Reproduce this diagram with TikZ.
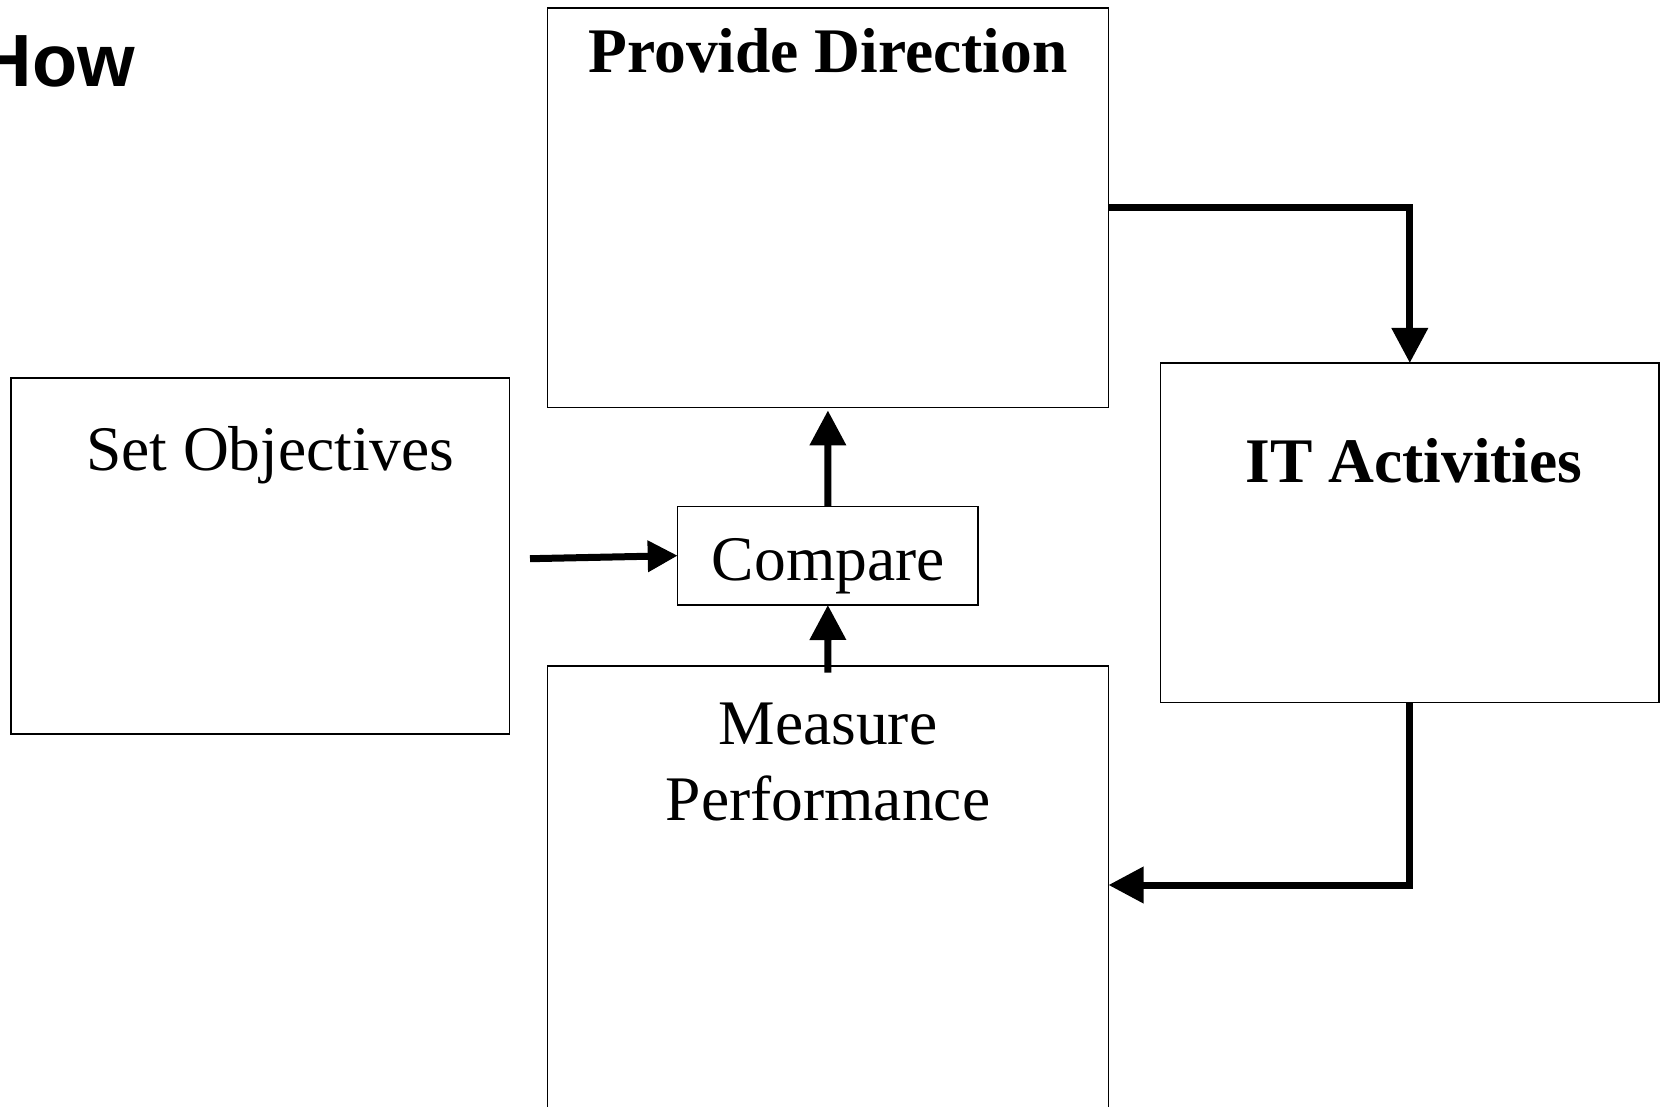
\documentclass[tikz,border=0pt]{standalone}
\usepackage{fontspec}
\setmainfont{Liberation Serif}
\newfontfamily\titlesans{Liberation Sans}
\usetikzlibrary{arrows.meta,calc}
\tikzset{
  boxnode/.style={draw=black, line width=0.7pt, rectangle, inner sep=0pt, outer sep=0pt, anchor=north west},
  txt/.style={inner sep=0pt, outer sep=0pt, anchor=base, font=\fontsize{31.75pt}{38pt}\selectfont},
  btxt/.style={txt, font=\fontsize{31.75pt}{38pt}\selectfont\bfseries},
  arr/.style={line width=3.5pt, line join=miter, -{Triangle[length=17.5pt,width=17.5pt]}},
  arrsmall/.style={line width=3.5pt, -{Triangle[length=15pt,width=15pt]}}
}
\begin{document}
\begin{tikzpicture}[x=0.5pt,y=-0.5pt]
\useasboundingbox (0,0) rectangle (1660,1107);
\fill[white] (0,0) rectangle (1660,1107);
\clip (0,0) rectangle (1660,1107);

% title
\node[inner sep=0pt, outer sep=0pt, anchor=base west, font=\titlesans\bfseries\fontsize{37pt}{44pt}\selectfont] (how) at (-21.3,86.7) {How};

% boxes
\node[boxnode, minimum width=280.6pt, minimum height=199.8pt] (pd) at (547.3,8) {};
\node[boxnode, minimum width=249.35pt, minimum height=178pt] (so) at (11,378) {};
\node[boxnode, minimum width=150.15pt, minimum height=49.35pt] (cmp) at (677.7,506.3) {};
\node[boxnode, minimum width=280.6pt, minimum height=260pt] (mp) at (547.3,666) {};
\node[boxnode, minimum width=249.2pt, minimum height=169.7pt] (it) at (1160.6,363) {};

% texts
\node[btxt] (pdt) at (828,72.7) {Provide Direction};
\node[btxt] (itt) at (1414,482) {IT Activities};
\node[txt] (sot) at (270.3,470) {Set Objectives};
\node[txt] (cmpt) at (828.3,580) {Compare};
\node[txt] (mpt1) at (828,744) {Measure};
\node[txt] (mpt2) at (828,820) {Performance};

% connectors
\coordinate (soout) at (530,558.7);
\coordinate (mpin) at ($(mp.north east)+(0,219)$);
\draw[arr] (pd.east) -| (it.north);
\draw[arr] (it.south) |- (mpin);
\draw[arr] (cmp.north) -- ([yshift=-1.4pt]pd.south);
\draw[arr] ([yshift=-3.3pt]mp.north) -- (cmp.south);
\draw[arrsmall] (soout) -- (cmp.west);
\end{tikzpicture}
\end{document}
